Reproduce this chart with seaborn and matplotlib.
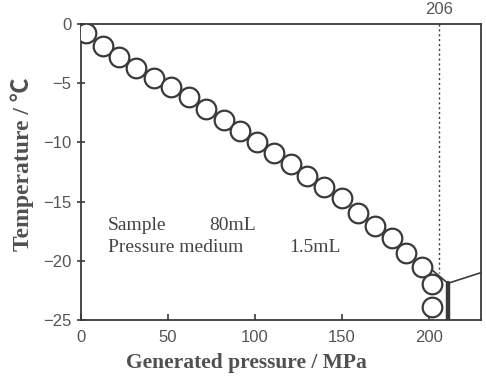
import matplotlib
matplotlib.use("Agg")
import matplotlib.pyplot as plt
import seaborn as sns
import pandas as pd

# Data
pressure = [3, 12.5, 22, 31.5, 42, 52, 62, 72, 82, 91.5, 101, 111, 120.5, 130,
            140, 150, 159, 169, 179, 187, 196, 202, 202]
temperature = [-0.8, -1.9, -2.8, -3.7, -4.6, -5.3, -6.2, -7.2, -8.1, -9.0, -10.0,
               -10.9, -11.8, -12.8, -13.8, -14.7, -16.0, -17.1, -18.1, -19.3,
               -20.5, -22.0, -23.9]

# trace after freezing (line through last points and the jump)
trace_p = [198, 211, 230]
trace_t = [-20.3, -21.9, -21.0]
jump_p = [211, 211]
jump_t = [-25, -21.9]

transition_p = 206
transition_t = [0, -21.0]

xticks = [0, 50, 100, 150, 200]
yticks = [0, -5, -10, -15, -20, -25]

df = pd.DataFrame({"pressure": pressure, "temperature": temperature})

sns.set_theme(style="ticks")
plt.rcParams["font.family"] = ["Liberation Sans", "DejaVu Sans"]

ink = "#3a3a3a"
fig = plt.figure(figsize=(4.86, 3.87), dpi=100)
ax = fig.add_axes([81 / 486, 1 - 320 / 387, 400 / 486, 296 / 387])

sns.lineplot(x=trace_p, y=trace_t, ax=ax, color=ink, lw=1.2, sort=False,
             estimator=None)
sns.lineplot(x=jump_p, y=jump_t, ax=ax, color=ink, lw=3.2, sort=False,
             estimator=None)
ax.plot([transition_p, transition_p], transition_t, color=ink, lw=1.0,
        ls=(0, (1.5, 2)))

sns.scatterplot(data=df, x="pressure", y="temperature", ax=ax, s=200,
                facecolor="white", edgecolor=ink, linewidth=1.6, zorder=3)

ax.set_xlim(0, 230)
ax.set_ylim(-25, 0)
ax.set_xticks(xticks)
ax.set_yticks(yticks)
ax.tick_params(axis="x", direction="in", length=4, width=1.2, colors=ink,
               labelsize=12, pad=7, labelcolor="#555555")
ax.tick_params(axis="y", direction="inout", length=6, width=1.2, colors=ink,
               labelsize=12, pad=4, labelcolor="#555555")
for sp in ax.spines.values():
    sp.set_visible(True)
    sp.set_color(ink)
    sp.set_linewidth(1.3)
ax.set_xlabel("")
ax.set_ylabel("")

serif = ["Liberation Serif", "DejaVu Serif"]
ax.text(transition_p, 0.6, str(transition_p), ha="center", va="bottom",
        fontsize=12, color="#555555")
ax.text(15.5, -17.0, "Sample", family=serif, fontsize=14, color="#444444",
        va="center")
ax.text(74, -17.0, "80mL", family=serif, fontsize=14, color="#444444",
        va="center")
ax.text(15.5, -18.9, "Pressure medium", family=serif, fontsize=14,
        color="#444444", va="center")
ax.text(120, -18.9, "1.5mL", family=serif, fontsize=14, color="#444444",
        va="center")

fig.text(246 / 486, 1 - 363 / 387, "Generated pressure / MPa", family=serif,
         fontsize=15.5, fontweight="bold", color="#505050", ha="center",
         va="center")
fig.text(22 / 486, 1 - 164 / 387, "Temperature / \u2103",
         family=["Liberation Serif", "Noto Sans CJK JP"],
         fontsize=17, fontweight="bold", color="#505050", ha="center",
         va="center", rotation=90)

fig.savefig("out.png", dpi=100)
